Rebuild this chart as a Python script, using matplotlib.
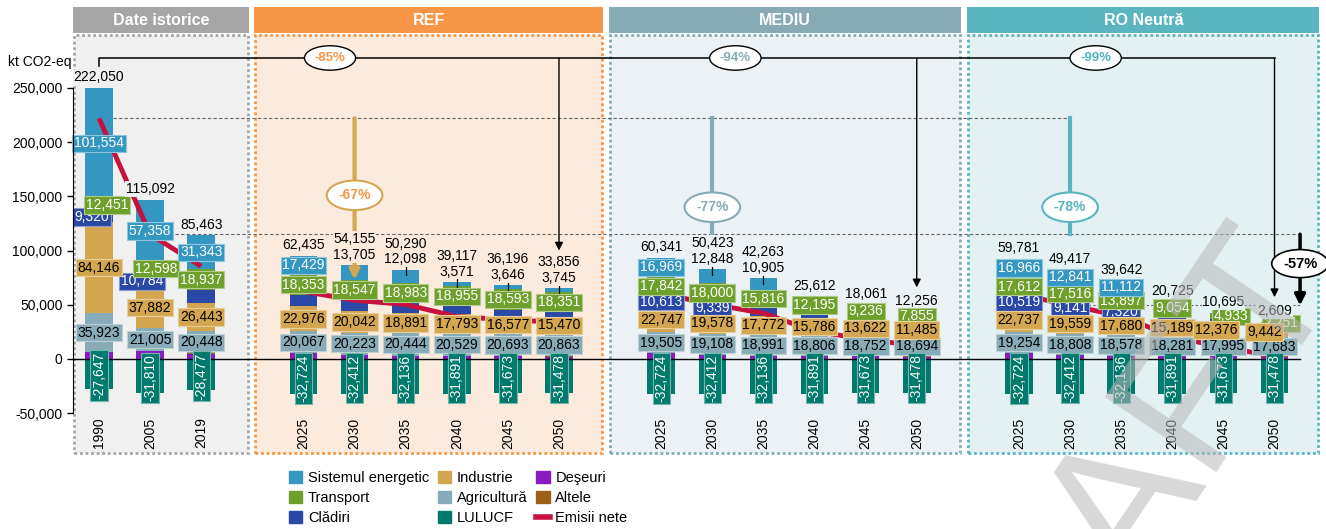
import numpy as np
import matplotlib.pyplot as plt
from matplotlib import font_manager
from matplotlib.patches import Rectangle, Patch
from matplotlib.lines import Line2D

names = {f.name for f in font_manager.fontManager.ttflist}
BASE = 'Liberation Sans' if 'Liberation Sans' in names else 'DejaVu Sans'
NARROW = 'Liberation Sans Narrow' if 'Liberation Sans Narrow' in names else BASE
plt.rcParams['font.family'] = [BASE, 'DejaVu Sans']

# ---- data (kt CO2-eq); order: 1990,2005,2019 | REF 2025-2050 | MEDIU 2025-2050 | RO Neutra 2025-2050
years_hist = ['1990', '2005', '2019']
years_scn = ['2025', '2030', '2035', '2040', '2045', '2050']
panel_titles = ['Date istorice', 'REF', 'MEDIU', 'RO Neutră']

energie = [101554, 57358, 31343,
           17429, 13705, 12098, 3571, 3646, 3745,
           16969, 12848, 10905, 1500, 1000, 500,
           16966, 12841, 11112, 1000, 500, 200]
transport = [12451, 12598, 18937,
             18353, 18547, 18983, 18955, 18593, 18351,
             17842, 18000, 15816, 12195, 9236, 7855,
             17612, 17516, 13897, 9054, 4933, 2251]
cladiri = [9320, 10784, 11569,
           10934, 10090, 8820, 7160, 5760, 4505,
           10613, 9339, 7725, 6216, 4524, 2800,
           10519, 9141, 7320, 6092, 3964, 2111]
industrie = [84146, 37882, 26443,
             22976, 20042, 18891, 17793, 16577, 15470,
             22747, 19578, 17772, 15786, 13622, 11485,
             22737, 19559, 17680, 15189, 12376, 9442]
agricultura = [35923, 21005, 20448,
               20067, 20223, 20444, 20529, 20693, 20863,
               19505, 19108, 18991, 18806, 18752, 18694,
               19254, 18808, 18578, 18281, 17995, 17683]
deseuri = [6000, 6975, 4900,
           5200, 3760, 2990, 2800, 2400, 2200,
           5200, 3760, 2990, 2800, 2400, 2200,
           5200, 3760, 2990, 2800, 2400, 2200]
altele = [303, 300, 300,
          200, 200, 200, 200, 200, 200,
          200, 200, 200, 200, 200, 200,
          200, 200, 200, 200, 200, 200]
lulucf = [-27647, -31810, -28477,
          -32724, -32412, -32136, -31891, -31673, -31478,
          -32724, -32412, -32136, -31891, -31673, -31478,
          -32724, -32412, -32136, -31891, -31673, -31478]
emisii_nete = [222050, 115092, 85463,
               62435, 54155, 50290, 39117, 36196, 33856,
               60341, 50423, 42263, 25612, 18061, 12256,
               59781, 49417, 39642, 20725, 10695, 2609]

# how the energy / buildings labels are shown on each bar
energie_lbl = ['in'] * 3 + ['in'] + ['above'] * 5 + ['in', 'above', 'above', '', '', ''] + ['in', 'in', 'in', '', '', '']
cladiri_lbl = [1, 1, 0] + [0] * 6 + [1, 1, 0, 0, 0, 0] + [1, 1, 1, 0, 0, 0]

C_ES, C_TR, C_CL = '#3497c2', '#6ea02c', '#2a49a6'
C_IND, C_AGR, C_LUL = '#d4a650', '#87abb7', '#007a6c'
C_DES, C_ALT, C_NET = '#8a1cbf', '#9c6116', '#c8103e'
panel_bg = ['#f0f0f0', '#fcebdc', '#ebf1f4', '#e3f1f3']
panel_ec = ['#a6a6a6', '#f79646', '#86abb5', '#5bb5c0']

pos = np.r_[0:3, 4:10, 11:17, 18:24]
groups = [slice(0, 3), slice(3, 9), slice(9, 15), slice(15, 21)]
years = years_hist + years_scn * 3

fig = plt.figure(figsize=(13.26, 5.29), dpi=100)
ax = fig.add_axes([73 / 1326, 1 - 455 / 529, (1320 - 73) / 1326, (455 - 7) / 529])
ax.set_xlim(-0.509, 23.89)
ax.set_ylim(-88561, 324723)

# panels + headers
panel_x = [(-0.48, 2.916), (3.053, 9.843), (10.0, 16.85), (17.006, 23.86)]
for (x0, x1), bg, ec, title in zip(panel_x, panel_bg, panel_ec, panel_titles):
    ax.add_patch(Rectangle((x0, -87000), x1 - x0, 298500 + 87000, fc=bg, ec=ec,
                           lw=2, ls=(0, (1, 1)), zorder=0))
    ax.add_patch(Rectangle((x0 - 0.02, 300700), x1 - x0 + 0.04, 24000, fc=ec, ec='none',
                           zorder=0, clip_on=False))
    ax.text((x0 + x1) / 2, 312700, title, ha='center', va='center', color='white',
            fontsize=11.5, fontweight='bold', family=NARROW)

# stacked bars
W = 0.54
bottom = np.zeros(len(pos))
for vals, col in [(deseuri, C_DES), (altele, C_ALT), (agricultura, C_AGR), (industrie, C_IND),
                  (cladiri, C_CL), (transport, C_TR), (energie, C_ES)]:
    ax.bar(pos, vals, W, bottom=bottom, color=col, zorder=2)
    bottom += np.array(vals)
top = bottom.copy()
ax.bar(pos, lulucf, W, color=C_LUL, zorder=2)

ax.axhline(0, xmin=0.0, xmax=(23.5 + 0.509) / 24.399, color='black', lw=1, zorder=2.5)

# net emissions line
for g in groups:
    ax.plot(pos[g], emisii_nete[g], color=C_NET, lw=3.5, zorder=3, solid_capstyle='butt')


def edge(c):
    r = np.array(plt.matplotlib.colors.to_rgb(c))
    return tuple(r + (1 - r) * 0.45)


def lbl(x, y, v, fc, tc, rot=0, z=5):
    ax.text(x, y, f'{v:,}', ha='center', va='center', fontsize=10, color=tc, rotation=rot,
            zorder=z, bbox=dict(boxstyle='square,pad=0.12', fc=fc, ec=edge(fc), lw=0.8))


dx_cl = {0: -0.14, 1: -0.16}
dx_tr = {0: 0.16, 1: 0.12, 19: 0.14, 20: 0.12}
dx_ind = {19: -0.14, 20: -0.2}
for i, x in enumerate(pos):
    b = deseuri[i] + altele[i]
    lbl(x, b + agricultura[i] / 2, agricultura[i], C_AGR, 'black')
    b += agricultura[i]
    lbl(x + dx_ind.get(i, 0), b + industrie[i] / 2, industrie[i], C_IND, 'black', z=5.2)
    b += industrie[i]
    if cladiri_lbl[i]:
        lbl(x + dx_cl.get(i, 0), b + cladiri[i] / 2, cladiri[i], C_CL, 'white')
    b += cladiri[i]
    lbl(x + dx_tr.get(i, 0), b + transport[i] / 2, transport[i], C_TR, 'white')
    b += transport[i]
    bg = panel_bg[[k for k, g in enumerate(groups) if g.start <= i < g.stop][0]]
    if energie_lbl[i] == 'in':
        lbl(x, b + energie[i] / 2, energie[i], C_ES, 'white')
    if energie_lbl[i] == 'above':
        ax.text(x, top[i] + 9500, f'{energie[i]:,}', ha='center', va='center', fontsize=10,
                zorder=5, bbox=dict(boxstyle='square,pad=0.05', fc=bg, ec='none'))
        ax.plot([x, x], [top[i] + 3000, top[i] - 5000], color='black', lw=0.9, zorder=4)
        ny = top[i] + 24000
    else:
        ny = top[i] + 10000
    ax.text(x, ny, f'{emisii_nete[i]:,}', ha='center', va='center', fontsize=10, zorder=5,
            bbox=dict(boxstyle='square,pad=0.05', fc=bg, ec='none'))
    ax.text(x, lulucf[i] / 2 - 1500, f'{lulucf[i]:,}', ha='center', va='center', fontsize=10,
            color='white', rotation=90, zorder=5,
            bbox=dict(boxstyle='square,pad=0.12', fc=C_LUL, ec=edge(C_LUL), lw=0.8))
    ax.text(x, -54000, years[i], ha='center', va='top', rotation=90, fontsize=10, zorder=5)

# reference levels
ax.plot([0.28, 19], [emisii_nete[0]] * 2, color='#666666', lw=0.8, ls=(0, (3, 2)), zorder=1)
ax.plot([1.28, 23.5], [emisii_nete[1]] * 2, color='#666666', lw=0.8, ls=(0, (3, 2)), zorder=1)
ax.plot([19.28, 23.5], [emisii_nete[16]] * 2, color='#666666', lw=0.8, ls=(0, (2, 2)), zorder=1)

# top bracket with arrows to 2050
YB = 277700
ax.plot([0, 0, 23], [270000, YB, YB], color='black', lw=1.1, zorder=4)
for i, tip in [(8, 100000), (14, 66000), (20, 57000)]:
    ax.annotate('', xy=(pos[i], tip), xytext=(pos[i], YB),
                arrowprops=dict(arrowstyle='-|>', color='black', lw=1, mutation_scale=12,
                                shrinkA=0, shrinkB=0), zorder=4)
for x, t, c in [(4.52, '-85%', '#f79646'), (12.45, '-94%', '#86abb5'), (19.5, '-99%', '#4fb3bf')]:
    ax.text(x, YB, t, ha='center', va='center', fontsize=9.5, fontweight='bold', color=c,
            family=NARROW, zorder=6,
            bbox=dict(boxstyle='ellipse,pad=0.2', fc='white', ec='black', lw=1))

# reductions 2030 vs 1990
ax.annotate('', xy=(pos[4], 73000), xytext=(pos[4], emisii_nete[0]),
            arrowprops=dict(arrowstyle='-|>', color=C_IND, lw=3, mutation_scale=14,
                            shrinkA=0, shrinkB=0), zorder=4)
ax.plot([pos[10]] * 2, [emisii_nete[0], emisii_nete[1]], color='#86abb5', lw=3, zorder=4)
ax.plot([pos[16]] * 2, [emisii_nete[0], emisii_nete[1]], color='#5bb5c0', lw=3, zorder=4)
for x, y, t, ec, tc in [(pos[4], 151000, '-67%', C_IND, '#f79646'),
                        (pos[10], 140000, '-77%', '#86abb5', '#86abb5'),
                        (pos[16], 140000, '-78%', '#5bb5c0', '#5bb5c0')]:
    ax.text(x, y, t, ha='center', va='center', fontsize=10, fontweight='bold', color=tc,
            family=NARROW, zorder=6,
            bbox=dict(boxstyle='ellipse,pad=0.25', fc='white', ec=ec, lw=1.5))

# -57% RO 2030 vs 2005
ax.annotate('', xy=(23.5, emisii_nete[16]), xytext=(23.5, emisii_nete[1]),
            arrowprops=dict(arrowstyle='-|>', color='black', lw=2.5, mutation_scale=16,
                            shrinkA=0, shrinkB=0), zorder=4)
ax.text(23.5, 88000, '-57%', ha='center', va='center', fontsize=10.5, fontweight='bold',
        family=NARROW, zorder=6, bbox=dict(boxstyle='ellipse,pad=0.2', fc='white', ec='black', lw=1.2))

# axes styling
ax.set_xticks([])
yt = np.arange(-50000, 250001, 50000)
ax.set_yticks(yt)
ax.set_yticklabels([f'{v:,}' for v in yt], fontsize=10)
ax.tick_params(axis='y', length=4, width=1)
for s in ['top', 'right', 'bottom']:
    ax.spines[s].set_visible(False)
ax.spines['left'].set_bounds(-50000, 250000)
ax.spines['left'].set_linestyle((0, (2, 1)))
ax.spines['left'].set_zorder(5)
ax.text(-1.78, 274000, 'kt CO2-eq', ha='left', va='center', fontsize=10, clip_on=False)

handles = [Patch(color=C_ES), Patch(color=C_TR), Patch(color=C_CL),
           Patch(color=C_IND), Patch(color=C_AGR), Patch(color=C_LUL),
           Patch(color=C_DES), Patch(color=C_ALT), Line2D([], [], color=C_NET, lw=4)]
labels = ['Sistemul energetic', 'Transport', 'Clădiri', 'Industrie', 'Agricultură', 'LULUCF',
          'Deşeuri', 'Altele', 'Emisii nete']
fig.legend(handles, labels, loc='upper left', bbox_to_anchor=(276 / 1326, 1 - 458 / 529), ncol=3,
           frameon=False, prop={'family': NARROW, 'size': 10.5}, handlelength=0.9,
           handleheight=0.9, handletextpad=0.4, columnspacing=0.6, labelspacing=0.4)

# watermark
fig.text(1110 / 1326, 1 - 515 / 529, 'DRAFT', rotation=56, fontsize=140, color='#b8b8b8',
         alpha=0.55, ha='center', va='center', zorder=10)

fig.savefig('out.png', dpi=100)
